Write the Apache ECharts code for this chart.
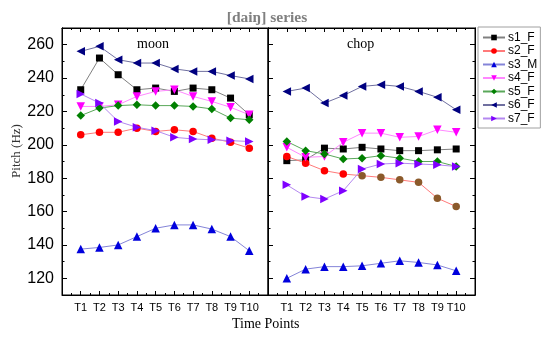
<!DOCTYPE html>
<html><head><meta charset="utf-8">
<script src="https://cdn.jsdelivr.net/npm/echarts@6/dist/echarts.min.js"></script>
<style>html,body{margin:0;padding:0;background:#fff}#c{width:550px;height:339px}</style>
</head><body><div id="c"></div>
<script>
const timeLabels = ['T1','T2','T3','T4','T5','T6','T7','T8','T9','T10'];
const yTicks = [120,140,160,180,200,220,240,260];
const seriesNames = ['s1_F','s2_F','s3_M','s4_F','s5_F','s6_F','s7_F'];
const panelNames = ['moon','chop'];
// moon panel
const moon_s1 = [233,252,242,233,234,232,234,233,228,218];
const moon_s2 = [206,207.5,207.5,210,208,209,208,204,201.5,198];
const moon_s3 = [137.5,138.5,140,145,150,152,152,149.5,145,136.5];
const moon_s4 = [223,223,224,229,232,233,229,226,222.5,218];
const moon_s5 = [217.5,222,223.5,224,223.5,223.5,223,221.5,216,215];
const moon_s6 = [256,259,251,249,249,245.5,244,244,241.5,239.5];
const moon_s7 = [230.5,225,214,210.5,208.5,204.5,203.5,203,202.5,202];
// chop panel
const chop_s1 = [190.5,191,198,197.5,198.5,197.5,196.5,196.5,197,197.5];
const chop_s2 = [193,189,184.5,182.5,181.5,180.5,179,177.5,168,163];
const chop_s3 = [120,125.5,127,127,127.5,129,130.5,129.5,128,124.5];
const chop_s4 = [198.5,192.5,193,201.5,207,207,204.5,205,209,207.5];
const chop_s5 = [202,196.5,194.5,191.5,192,193.5,192,190,190,187];
const chop_s6 = [232,234,225,229.5,235,236,235,232,228.5,221];
const chop_s7 = [176,169,167.5,172.5,185.5,188.5,189,188.5,188,187];

const moonData = [moon_s1,moon_s2,moon_s3,moon_s4,moon_s5,moon_s6,moon_s7];
const chopData = [chop_s1,chop_s2,chop_s3,chop_s4,chop_s5,chop_s6,chop_s7];

const styles = [
  {sym:'rect', size:7, rot:0, c:'#000000', l:'#808080'},
  {sym:'circle', size:7.5, rot:0, c:'#ff0000', l:'#ff7a7a'},
  {sym:'triangle', size:8.5, rot:0, c:'#0000dd', l:'#8484d8'},
  {sym:'triangle', size:8.5, rot:180, c:'#ff00ff', l:'#ff88ff'},
  {sym:'diamond', size:8.5, rot:0, c:'#008000', l:'#5aa85a'},
  {sym:'triangle', size:8.5, rot:90, c:'#000080', l:'#7070a0'},
  {sym:'triangle', size:8.5, rot:-90, c:'#7f00ff', l:'#b488f0'}
];

const FONT_SANS = 'Liberation Sans, Arial, sans-serif';
const FONT_SERIF = 'Liberation Serif, Times New Roman, serif';

const grids = [
  {left:62, right:282, top:28, bottom:44, show:true, borderColor:'#000', borderWidth:1, backgroundColor:'transparent'},
  {left:268, right:75, top:28, bottom:44, show:true, borderColor:'#000', borderWidth:1, backgroundColor:'transparent'}
];

const xAxes = [];
const yAxes = [];
[0,1].forEach(g => {
  const xBase = {
    type:'value', gridIndex:g, min:0, max:11, interval:1,
    axisLine:{show:true, lineStyle:{color:'#000'}},
    splitLine:{show:false},
    axisTick:{show:true, inside:true, length:4, lineStyle:{color:'#000'}},
    minorTick:{show:true, splitNumber:2, length:2, lineStyle:{color:'#000'}}
  };
  xAxes.push(Object.assign({}, xBase, {
    position:'bottom',
    axisLabel:{show:true, fontFamily:FONT_SANS, fontSize:11, color:'#000', margin:7,
      formatter: v => (v>=1 && v<=10) ? timeLabels[v-1] : ''}
  }));
  xAxes.push(Object.assign({}, xBase, {position:'top', axisLabel:{show:false}}));
  const yBase = {
    type:'value', gridIndex:g, min:110, max:270, interval:10,
    splitLine:{show:false},
    axisLine:{show:true, lineStyle:{color:'#000'}},
    axisTick:{show:true, inside:true, length:2.5, lineStyle:{color:'#000'}}
  };
  yAxes.push(Object.assign({}, yBase, {
    position:'left',
    axisLabel:{show:g===0, fontFamily:FONT_SANS, fontSize:16, color:'#000', margin:8,
      customValues: yTicks}
  }));
  yAxes.push(Object.assign({}, yBase, {
    position:'left', axisLabel:{show:false},
    axisTick:{show:true, inside:true, length:5, lineStyle:{color:'#000'}, customValues: yTicks}
  }));
  if (g===1) {
    yAxes.push(Object.assign({}, yBase, {position:'right', axisLabel:{show:false}}));
    yAxes.push(Object.assign({}, yBase, {
      position:'right', axisLabel:{show:false},
      axisTick:{show:true, inside:true, length:5, lineStyle:{color:'#000'}, customValues: yTicks}
    }));
  }
});

const series = [];
[moonData, chopData].forEach((panel, g) => {
  panel.forEach((vals, i) => {
    const st = styles[i];
    series.push({
      type:'line', name:seriesNames[i],
      xAxisIndex: g*2, yAxisIndex: g*2,
      data: vals.map((v, k) => {
        const item = {value:[k+1, v]};
        if (g===1 && i===1 && k>=4) item.itemStyle = {color:'#8b5a2b'};
        return item;
      }),
      symbol: st.sym, symbolSize: st.size, symbolRotate: st.rot,
      itemStyle:{color: st.c},
      lineStyle:{color: st.l, width:1},
      animation:false
    });
  });
});

const chart = echarts.init(document.getElementById('c'), null, {renderer:'canvas'});
chart.setOption({
  backgroundColor:'#fff',
  animation:false,
  title:{text:'[daiŋ] series', left:262, top:5, textAlign:'center',
    textStyle:{fontFamily:FONT_SERIF, fontSize:15.5, fontWeight:'bold', color:'#808080'}},
  legend:{
    data: seriesNames, orient:'vertical', left:478, top:27,
    backgroundColor:'#fff', borderColor:'#a0a0a0', borderWidth:1, padding:[4,3,3,4],
    itemWidth:22, itemHeight:7, itemGap:0.5,
    textStyle:{fontFamily:FONT_SANS, fontSize:12, color:'#000', lineHeight:13, padding:[0,0,0,-2]}
  },
  graphic:[
    {type:'text', left:137, top:37, style:{text:panelNames[0], font:'14px '+FONT_SERIF, fill:'#000'}},
    {type:'text', left:347, top:37, style:{text:panelNames[1], font:'14px '+FONT_SERIF, fill:'#000'}},
    {type:'text', left:232, top:317, style:{text:'Time Points', font:'14px '+FONT_SERIF, fill:'#000'}},
    {type:'text', x:17, y:151, rotation:Math.PI/2,
      style:{text:'Pitch (Hz)', font:'13px '+FONT_SERIF, fill:'#333', align:'center', verticalAlign:'middle'}}
  ],
  grid: grids,
  xAxis: xAxes,
  yAxis: yAxes,
  series: series
});
</script>
</body></html>
